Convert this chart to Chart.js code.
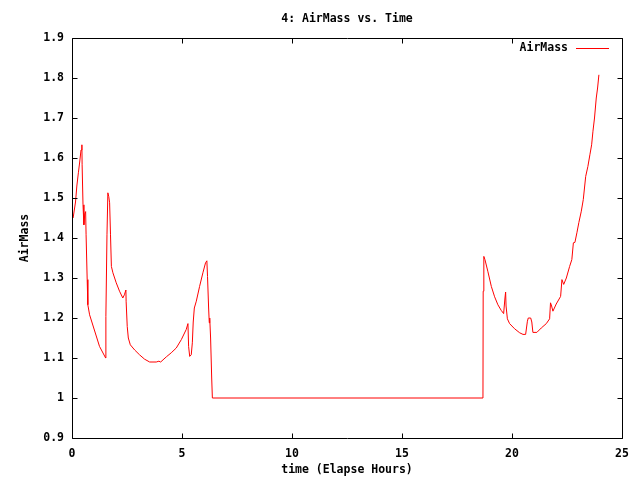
<!DOCTYPE html>
<html>
<head>
<meta charset="utf-8">
<title>4: AirMass vs. Time</title>
<script src="https://cdn.jsdelivr.net/npm/chart.js@4/dist/chart.umd.min.js"></script>
<style>
  html, body { margin: 0; padding: 0; background: #fff; }
  #wrap { width: 640px; height: 480px; }
</style>
</head>
<body>
<div id="wrap"><canvas id="airChart" width="640" height="480"></canvas></div>
<script>
// elapsed hours and airmass
const hours = [
  0.05, 0.16, 0.22, 0.29, 0.35, 0.41, 0.45, 0.46, 0.50, 0.54, 0.58, 0.62, 0.64, 0.69, 0.72, 0.80,
  1.25, 1.53, 1.54, 1.59, 1.63, 1.67, 1.71, 1.75, 1.79, 1.86, 2.01, 2.16, 2.31, 2.38, 2.45, 2.46,
  2.51, 2.56, 2.65, 2.85, 3.07, 3.30, 3.53, 3.83, 3.95, 4.03, 4.29, 4.51, 4.74, 4.97, 5.19, 5.27,
  5.30, 5.35, 5.42, 5.47, 5.51, 5.56, 5.65, 5.80, 5.95, 6.07, 6.13, 6.16, 6.21, 6.24, 6.26, 6.30,
  6.35, 6.38,
  18.68, 18.69, 18.72, 18.77, 18.90, 19.06, 19.21, 19.36, 19.51, 19.62, 19.68, 19.71, 19.73, 19.79,
  19.89, 20.12, 20.35, 20.50, 20.62, 20.70, 20.74, 20.85, 20.90, 20.95, 21.13, 21.33, 21.56, 21.71,
  21.75, 21.80, 21.86, 22.01, 22.21, 22.27, 22.35, 22.47, 22.62, 22.72, 22.79, 22.86, 22.95, 23.04,
  23.15, 23.24, 23.35, 23.45, 23.54, 23.62, 23.68, 23.75, 23.83, 23.89, 23.95
];
const airMass = [
  1.450, 1.490, 1.530, 1.563, 1.590, 1.620, 1.633, 1.583, 1.483, 1.433, 1.460, 1.466, 1.408, 1.296, 1.233, 1.208,
  1.129, 1.100, 1.204, 1.408, 1.513, 1.504, 1.488, 1.408, 1.329, 1.313, 1.288, 1.267, 1.250, 1.258, 1.270, 1.242,
  1.179, 1.150, 1.133, 1.120, 1.108, 1.097, 1.090, 1.090, 1.092, 1.090, 1.103, 1.113, 1.125, 1.146, 1.171, 1.186,
  1.129, 1.104, 1.108, 1.138, 1.190, 1.225, 1.242, 1.279, 1.313, 1.338, 1.343, 1.304, 1.225, 1.188, 1.200, 1.150,
  1.050, 1.000,
  1.000, 1.267, 1.354, 1.346, 1.317, 1.279, 1.253, 1.233, 1.219, 1.211, 1.250, 1.265, 1.230, 1.198,
  1.186, 1.173, 1.163, 1.159, 1.159, 1.192, 1.200, 1.200, 1.190, 1.164, 1.164, 1.175, 1.186, 1.198,
  1.238, 1.230, 1.217, 1.235, 1.254, 1.296, 1.284, 1.300, 1.329, 1.346, 1.388, 1.389, 1.413, 1.439,
  1.467, 1.496, 1.554, 1.579, 1.608, 1.633, 1.667, 1.700, 1.750, 1.775, 1.808
];
const xTicks = [0, 5, 10, 15, 20, 25];
const yTicks = [0.9, 1.0, 1.1, 1.2, 1.3, 1.4, 1.5, 1.6, 1.7, 1.8, 1.9];

const seriesName = "AirMass";
const titleText = "4: AirMass vs. Time";
const xTitle = "time (Elapse Hours)";
const yTitle = "AirMass";

const FONT = "'DejaVu Sans Mono', 'Liberation Mono', monospace";
const fontSpec = { family: FONT, size: 11.5, weight: "bold" };

// gnuplot-ish frame, inward ticks on all four sides, title, axis labels, legend
const gnuplotLook = {
  id: "gnuplotLook",
  afterDraw(chart) {
    const { ctx, chartArea: a, scales } = chart;
    const L = Math.round(a.left) + 0.5, R = Math.round(a.right) + 0.5;
    const T = Math.round(a.top) + 0.5, B = Math.round(a.bottom) + 0.5;
    const tick = 5;
    ctx.save();
    ctx.strokeStyle = "#000";
    ctx.lineWidth = 1;
    ctx.beginPath();
    ctx.rect(L, T, R - L, B - T);
    xTicks.forEach(v => {
      const px = Math.round(scales.x.getPixelForValue(v)) + 0.5;
      ctx.moveTo(px, B); ctx.lineTo(px, B - tick);
      ctx.moveTo(px, T); ctx.lineTo(px, T + tick);
    });
    yTicks.forEach(v => {
      const py = Math.round(scales.y.getPixelForValue(v)) + 0.5;
      ctx.moveTo(L, py); ctx.lineTo(L + tick, py);
      ctx.moveTo(R, py); ctx.lineTo(R - tick, py);
    });
    ctx.stroke();

    ctx.fillStyle = "#000";
    ctx.font = "bold 11.5px " + FONT;
    ctx.textBaseline = "middle";
    ctx.textAlign = "center";
    const cx = (a.left + a.right) / 2;
    ctx.fillText(titleText, cx, 19);
    ctx.fillText(xTitle, cx, 470);

    ctx.save();
    ctx.translate(25, (a.top + a.bottom) / 2);
    ctx.rotate(-Math.PI / 2);
    ctx.fillText(yTitle, 0, 0);
    ctx.restore();

    // legend: text, then sample line
    ctx.textAlign = "right";
    ctx.fillText(seriesName, 568, 48);
    ctx.strokeStyle = "#ff0000";
    ctx.beginPath();
    ctx.moveTo(576, 48.5);
    ctx.lineTo(609, 48.5);
    ctx.stroke();
    ctx.restore();
  }
};

new Chart(document.getElementById("airChart"), {
  type: "line",
  data: {
    datasets: [{
      label: seriesName,
      data: hours.map((h, i) => ({ x: h, y: airMass[i] })),
      borderColor: "#ff0000",
      borderWidth: 1,
      pointRadius: 0,
      tension: 0,
      fill: false
    }]
  },
  options: {
    responsive: false,
    animation: false,
    layout: { padding: { top: 38, right: 18, left: 0, bottom: 0 } },
    plugins: {
      legend: { display: false },
      title: { display: false },
      tooltip: { enabled: false }
    },
    scales: {
      x: {
        type: "linear",
        min: 0,
        max: 25,
        afterBuildTicks: s => { s.ticks = xTicks.map(v => ({ value: v })); },
        afterFit: s => { s.height = 42; },
        grid: { display: false, drawTicks: false },
        border: { display: false },
        ticks: { color: "#000", font: fontSpec, padding: 9, maxRotation: 0, autoSkip: false }
      },
      y: {
        type: "linear",
        min: 0.9,
        max: 1.9,
        afterBuildTicks: s => { s.ticks = yTicks.map(v => ({ value: v })); },
        afterFit: s => { s.width = 72; },
        grid: { display: false, drawTicks: false },
        border: { display: false },
        ticks: {
          color: "#000",
          font: fontSpec,
          padding: 8,
          autoSkip: false,
          callback: v => String(Number(v.toFixed(1)))
        }
      }
    }
  },
  plugins: [gnuplotLook]
});
</script>
</body>
</html>
